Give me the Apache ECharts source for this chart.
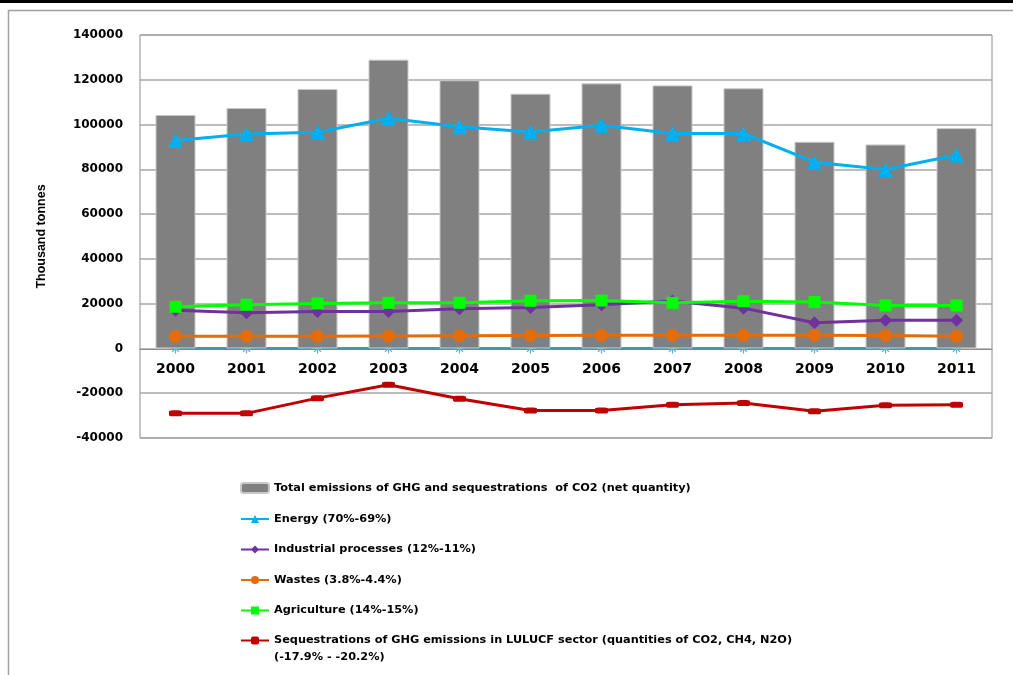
<!DOCTYPE html>
<html>
<head>
<meta charset="utf-8">
<script src="https://cdn.jsdelivr.net/npm/echarts@6/dist/echarts.min.js"></script>
<style>
	html, body { margin: 0; padding: 0; background: #fff; }
	#chart { width: 1013px; height: 675px; }
</style>
</head>
<body>
<div id="chart"></div>
<script>
// 数据
var years = ['2000', '2001', '2002', '2003', '2004', '2005', '2006', '2007', '2008', '2009', '2010', '2011'];
var totalNet = [104300, 107400, 115900, 129000, 119800, 113800, 118400, 117500, 116200, 92300, 91100, 98400];
var energy = [92900, 95800, 96600, 102800, 99000, 96700, 99700, 96000, 96000, 83200, 79900, 86400];
var industrial = [17100, 15900, 16500, 16500, 17700, 18300, 19500, 21200, 18000, 11500, 12600, 12600];
var wastes = [5400, 5500, 5500, 5600, 5700, 5800, 5900, 5900, 5900, 5900, 5800, 5400];
var agriculture = [18600, 19500, 20100, 20400, 20400, 21300, 21400, 20400, 21100, 20700, 19200, 19200];
var lulucf = [-29000, -29000, -22200, -16200, -22500, -27700, -27700, -25200, -24400, -28100, -25400, -25200];
var baseline = [0, 0, 0, 0, 0, 0, 0, 0, 0, 0, 0, 0];

var names = [
	'Total emissions of GHG and sequestrations  of CO2 (net quantity)',
	'Energy (70%-69%)',
	'Industrial processes (12%-11%)',
	'Wastes (3.8%-4.4%)',
	'Agriculture (14%-15%)',
	'Sequestrations of GHG emissions in LULUCF sector (quantities of CO2, CH4, N2O)\n(-17.9% - -20.2%)'
];

var legendText = {
	fontFamily: 'DejaVu Sans',
	fontWeight: 'bold',
	fontSize: 11.3,
	color: '#000'
};

function lineSeries(name, data, color, symbol, size) {
	return {
		name: name,
		type: 'line',
		data: data,
		symbol: symbol,
		symbolSize: size,
		showAllSymbol: true,
		z: 3,
		lineStyle: { color: color, width: 3 },
		itemStyle: { color: color },
		emphasis: { disabled: true }
	};
}

var myChart = echarts.init(document.getElementById('chart'));
var option = {
	animation: false,
	backgroundColor: '#fff',
	graphic: [
		{ type: 'rect', shape: { x: 0, y: 0, width: 1013, height: 3 }, style: { fill: '#000' } },
		{ type: 'rect', shape: { x: 8.5, y: 10.5, width: 1100, height: 700 }, style: { fill: 'none', stroke: '#a0a0a0', lineWidth: 1.5 } }
	],
	grid: {
		left: 140,
		right: 21,
		top: 35,
		bottom: 237,
		show: true,
		borderColor: '#8c8c8c',
		borderWidth: 1
	},
	legend: [{
		orient: 'vertical',
		left: 235,
		top: 477,
		itemWidth: 28,
		itemHeight: 10,
		itemGap: 19.5,
		selectedMode: false,
		textStyle: legendText,
		data: names.slice(0, 5)
	}, {
		orient: 'vertical',
		left: 235,
		top: 610,
		itemWidth: 28,
		itemHeight: 10,
		selectedMode: false,
		textStyle: Object.assign({ lineHeight: 17 }, legendText),
		// 空行让图标对齐第一行
		formatter: function(name) {
			return ' \n' + name;
		},
		data: [names[5]]
	}],
	xAxis: {
		type: 'category',
		data: years,
		position: 'bottom',
		offset: -89,
		axisLine: { onZero: false, lineStyle: { color: '#8c8c8c' } },
		axisTick: { show: false },
		axisLabel: {
			margin: 13,
			fontFamily: 'DejaVu Sans',
			fontWeight: 'bold',
			fontSize: 14,
			color: '#000'
		}
	},
	yAxis: {
		type: 'value',
		min: -40000,
		max: 140000,
		interval: 20000,
		name: 'Thousand tonnes',
		nameLocation: 'middle',
		nameGap: 92,
		nameTextStyle: {
			fontFamily: 'Liberation Sans',
			fontWeight: 'bold',
			fontSize: 12.5,
			color: '#000'
		},
		axisLine: { show: false },
		axisTick: { show: false },
		splitLine: { lineStyle: { color: '#a6a6a6', width: 1.5 } },
		axisLabel: {
			margin: 17,
			fontFamily: 'DejaVu Sans',
			fontWeight: 'bold',
			fontSize: 12,
			color: '#000',
			formatter: function(v) {
				return String(v);
			}
		}
	},
	series: [{
		name: names[0],
		type: 'bar',
		data: totalNet,
		barWidth: 40,
		z: 2,
		itemStyle: { color: '#808080', borderColor: '#c8c8c8', borderWidth: 1 },
		emphasis: { disabled: true }
	},
	lineSeries(names[1], energy, '#00b0f0', 'triangle', 15),
	lineSeries(names[2], industrial, '#7030a0', 'diamond', 13),
	lineSeries(names[3], wastes, '#e46c0a', 'circle', 13),
	lineSeries(names[4], agriculture, '#00ff00', 'rect', 12),
	lineSeries(names[5], lulucf, '#c00000', 'roundRect', [13, 6]),
	{
		name: 'baseline',
		type: 'line',
		data: baseline,
		symbol: 'path://M0,5L10,5M5,0L5,10M1.5,1.5L8.5,8.5M8.5,1.5L1.5,8.5',
		symbolSize: 10,
		showAllSymbol: true,
		z: 1,
		lineStyle: { color: '#4298b0', width: 3 },
		itemStyle: { color: '#5ab0c8', borderColor: '#5ab0c8', borderWidth: 1.2 },
		emphasis: { disabled: true }
	}]
};
myChart.setOption(option);
window.onresize = function() {
	myChart.resize();
}
</script>
</body>
</html>
